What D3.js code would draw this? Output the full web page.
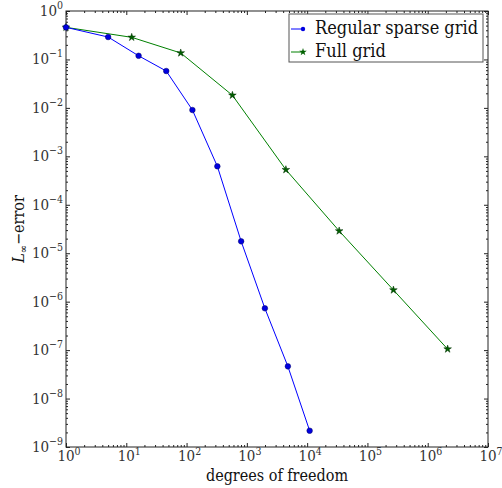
<!DOCTYPE html>
<html>
<head>
<meta charset="utf-8">
<script src="https://cdn.jsdelivr.net/npm/d3@7"></script>
<style>
body { margin: 0; background: #fff; }
svg { font-family: "DejaVu Serif Condensed", "DejaVu Serif", serif; font-stretch: condensed; }
.axis line { stroke: #222; }
</style>
</head>
<body>
<svg width="502" height="488"></svg>
<script>
// sparse grid data
var sparseDof = [1, 5, 16, 46, 125, 324, 804, 1990, 4790, 11000];
var sparseErr = [0.46, 0.29, 0.119, 0.0577, 0.00904, 6.22e-4, 1.76e-5, 7.29e-7, 4.62e-8, 2.17e-9];
// full grid data
var fullDof = [1, 12.3, 80, 576, 4440, 34000, 270000, 2140000];
var fullErr = [0.46, 0.286, 0.136, 0.0182, 5.3e-4, 2.88e-5, 1.74e-6, 1.05e-7];

var xExps = [0, 1, 2, 3, 4, 5, 6, 7];
var yExps = [0, -1, -2, -3, -4, -5, -6, -7, -8, -9];
var seriesNames = ["Regular sparse grid", "Full grid"];

var svg = d3.select("svg");
var margin = {left: 66, right: 14, top: 11, bottom: 41};
var width = 502 - margin.left - margin.right,
    height = 488 - margin.top - margin.bottom;

var x = d3.scaleLog().domain([1, 1e7]).range([0, width]);
var y = d3.scaleLog().domain([1e-9, 1]).range([height, 0]);

var g = svg.append("g").attr("transform", "translate(" + margin.left + "," + margin.top + ")");

// minor ticks
function minors(lo, hi) {
	var out = [];
	for (var e = lo; e < hi; e++)
		for (var k = 2; k < 10; k++) out.push(k * Math.pow(10, e));
	return out;
}
var xMinor = minors(0, 7), yMinor = minors(-9, 0);
var xMajor = xExps.map(function(e) { return Math.pow(10, e); });
var yMajor = yExps.map(function(e) { return Math.pow(10, e); });

function drawAxis(axisFn, scale, vals, size, tr) {
	g.append("g").attr("class", "axis").attr("transform", tr)
		.call(axisFn(scale).tickValues(vals).tickSize(size).tickFormat(""))
		.call(function(s) { s.select(".domain").remove(); });
}
drawAxis(d3.axisBottom, x, xMinor, -2, "translate(0," + height + ")");
drawAxis(d3.axisBottom, x, xMajor, -4, "translate(0," + height + ")");
drawAxis(d3.axisTop, x, xMinor, -2, "translate(0,0)");
drawAxis(d3.axisTop, x, xMajor, -4, "translate(0,0)");
drawAxis(d3.axisLeft, y, yMinor, -2, "translate(0,0)");
drawAxis(d3.axisLeft, y, yMajor, -4, "translate(0,0)");
drawAxis(d3.axisRight, y, yMinor, -2, "translate(" + width + ",0)");
drawAxis(d3.axisRight, y, yMajor, -4, "translate(" + width + ",0)");

// frame
g.append("rect").attr("width", width).attr("height", height)
	.attr("fill", "none").attr("stroke", "#222").attr("stroke-width", 1);

// tick labels
var xl = g.append("g").selectAll("text").data(xExps).enter().append("text")
	.attr("x", function(d) { return x(Math.pow(10, d)) + 3; })
	.attr("y", height + 14)
	.attr("text-anchor", "middle")
	.style("font-size", "15px").attr("fill", "#333");
xl.append("tspan").text("10");
xl.append("tspan").attr("dy", -6).style("font-size", "10.5px").text(function(d) { return d; });

var yl = g.append("g").selectAll("text").data(yExps).enter().append("text")
	.attr("x", -3)
	.attr("y", function(d) { return y(Math.pow(10, d)) + 5; })
	.attr("text-anchor", "end")
	.style("font-size", "15px").attr("fill", "#333");
yl.append("tspan").text("10");
yl.append("tspan").attr("dy", -7).style("font-size", "10.5px")
	.text(function(d) { return d === 0 ? "0" : "\u2212" + (-d); });

// axis titles
svg.append("text").attr("x", margin.left + width / 2).attr("y", 481)
	.attr("text-anchor", "middle").style("font-size", "16px").attr("fill", "#111")
	.text("degrees of freedom");
var yt = svg.append("text").attr("transform", "translate(24," + (margin.top + height / 2) + ") rotate(-90)")
	.attr("text-anchor", "middle").style("font-size", "16px").attr("fill", "#111");
yt.append("tspan").style("font-style", "italic").text("L");
yt.append("tspan").attr("dy", 3).style("font-size", "11px").text("\u221E");
yt.append("tspan").attr("dy", -3).text("\u2212error");

// lines
var line = d3.line().x(function(d) { return x(d[0]); }).y(function(d) { return y(d[1]); });
var sparse = d3.zip(sparseDof, sparseErr), full = d3.zip(fullDof, fullErr);

g.append("path").datum(full).attr("d", line).attr("fill", "none")
	.attr("stroke", "#008000").attr("stroke-width", 1);
g.append("path").datum(sparse).attr("d", line).attr("fill", "none")
	.attr("stroke", "#0000ff").attr("stroke-width", 1);

var star = d3.symbol().type(d3.symbolStar).size(18);
g.selectAll(".fm").data(full).enter().append("path")
	.attr("transform", function(d) { return "translate(" + x(d[0]) + "," + y(d[1]) + ")"; })
	.attr("d", star).attr("fill", "#006000").attr("stroke", "#003000").attr("stroke-width", 0.5);
g.selectAll(".sm").data(sparse).enter().append("circle")
	.attr("cx", function(d) { return x(d[0]); })
	.attr("cy", function(d) { return y(d[1]); })
	.attr("r", 2.8).attr("fill", "#0000e0").attr("stroke", "#000060").attr("stroke-width", 0.5);

// legend
var lg = svg.append("g").attr("transform", "translate(289,14)");
lg.append("rect").attr("width", 194).attr("height", 48)
	.attr("fill", "#fff").attr("stroke", "#555").attr("stroke-width", 1);
var colors = ["#0000ff", "#008000"];
seriesNames.forEach(function(name, i) {
	var cy = 15 + i * 23;
	lg.append("line").attr("x1", 2).attr("x2", 14).attr("y1", cy).attr("y2", cy)
		.attr("stroke", colors[i]).attr("stroke-width", 1);
	if (i === 0)
		lg.append("circle").attr("cx", 14).attr("cy", cy).attr("r", 2.2).attr("fill", "#0000e0");
	else
		lg.append("path").attr("transform", "translate(14," + cy + ")").attr("d", star).attr("fill", "#006000");
	lg.append("text").attr("x", 26).attr("y", cy + 5).style("font-size", "18px").attr("fill", "#111").text(name);
});
</script>
</body>
</html>
